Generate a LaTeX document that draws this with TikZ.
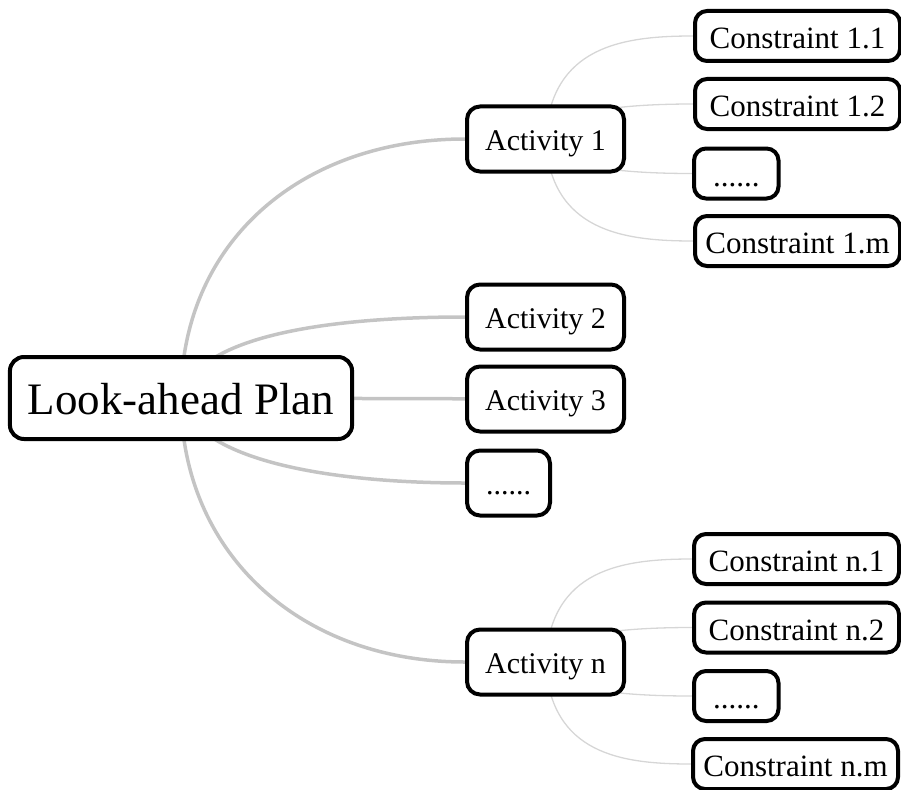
\documentclass[tikz,border=0pt]{standalone}
\usepackage{fontspec}
\setmainfont{Liberation Serif}
\usetikzlibrary{backgrounds}
\definecolor{linkgray}{RGB}{196,196,196}
\definecolor{leafgray}{RGB}{214,214,214}

\begin{document}
\begin{tikzpicture}[x=1pt,y=-1pt,
    plan/.style={draw,line width=4pt,rounded corners=14pt,fill=white,font=\fontsize{45}{50}\selectfont,inner xsep=18pt,inner ysep=19pt,text height=38pt,text depth=6pt},
    activity/.style={draw,line width=4pt,rounded corners=13pt,fill=white,font=\fontsize{30}{36}\selectfont,inner xsep=0pt,inner ysep=18pt,text height=26pt,text depth=3pt,minimum width=157pt,anchor=west},
    constraint/.style={activity,font=\fontsize{31}{36}\selectfont,inner ysep=10.5pt,text height=27pt,text depth=2pt,minimum width=205pt,rounded corners=12pt},
    dotsbox/.style={minimum width=0pt,inner xsep=19pt},
    link/.style={draw=linkgray,line width=3.5pt},
    leaf/.style={draw=leafgray,line width=1.3pt}]
        \useasboundingbox (0,0) rectangle (901,789);
        % root and activities
        \node[plan] (plan) at (181,398) {Look-ahead Plan};
        \node[activity] (act1) at (465,139) {Activity 1};
        \node[activity] (act2) at (465,317) {Activity 2};
        \node[activity] (act3) at (465,399) {Activity 3};
        \node[activity,dotsbox] (actdots) at (465,483) {......};
        \node[activity] (actn) at (465,662) {Activity n};
        % constraints of activity 1
        \node[constraint] (con11) at (693,36) {Constraint 1.1};
        \node[constraint] (con12) at (693,104) {Constraint 1.2};
        \node[constraint,dotsbox] (con1dots) at (692,173.5) {......};
        \node[constraint] (con1m) at (693,241) {Constraint 1.m};
        % constraints of activity n
        \node[constraint] (conn1) at (692,559) {Constraint n.1};
        \node[constraint] (conn2) at (692,627.5) {Constraint n.2};
        \node[constraint,dotsbox] (conndots) at (692,696) {......};
        \node[constraint] (connm) at (691,764) {Constraint n.m};
        \begin{pgfonlayer}{background}
        \draw[link] (plan.center) .. controls +(0,-155) and +(-165,0) .. (act1.west);
        \draw[link] (plan.center) .. controls +(14,-63) and +(-133,0) .. (act2.west);
        \draw[link] (plan) -- (act3);
        \draw[link] (plan.center) .. controls +(14,63) and +(-133,0) .. (actdots.west);
        \draw[link] (plan.center) .. controls +(0,155) and +(-165,0) .. (actn.west);
        \draw[leaf] (act1.center) .. controls +(5,-93) and +(-70,0) .. (con11.west);
        \draw[leaf] (act1.center) .. controls +(5,-28) and +(-70,0) .. (con12.west);
        \draw[leaf] (act1.center) .. controls +(5,28) and +(-70,0) .. (con1dots.west);
        \draw[leaf] (act1.center) .. controls +(5,92) and +(-70,0) .. (con1m.west);
        \draw[leaf] (actn.center) .. controls +(5,-93) and +(-70,0) .. (conn1.west);
        \draw[leaf] (actn.center) .. controls +(5,-28) and +(-70,0) .. (conn2.west);
        \draw[leaf] (actn.center) .. controls +(5,28) and +(-70,0) .. (conndots.west);
        \draw[leaf] (actn.center) .. controls +(5,92) and +(-70,0) .. (connm.west);
        \end{pgfonlayer}
\end{tikzpicture}
\end{document}
